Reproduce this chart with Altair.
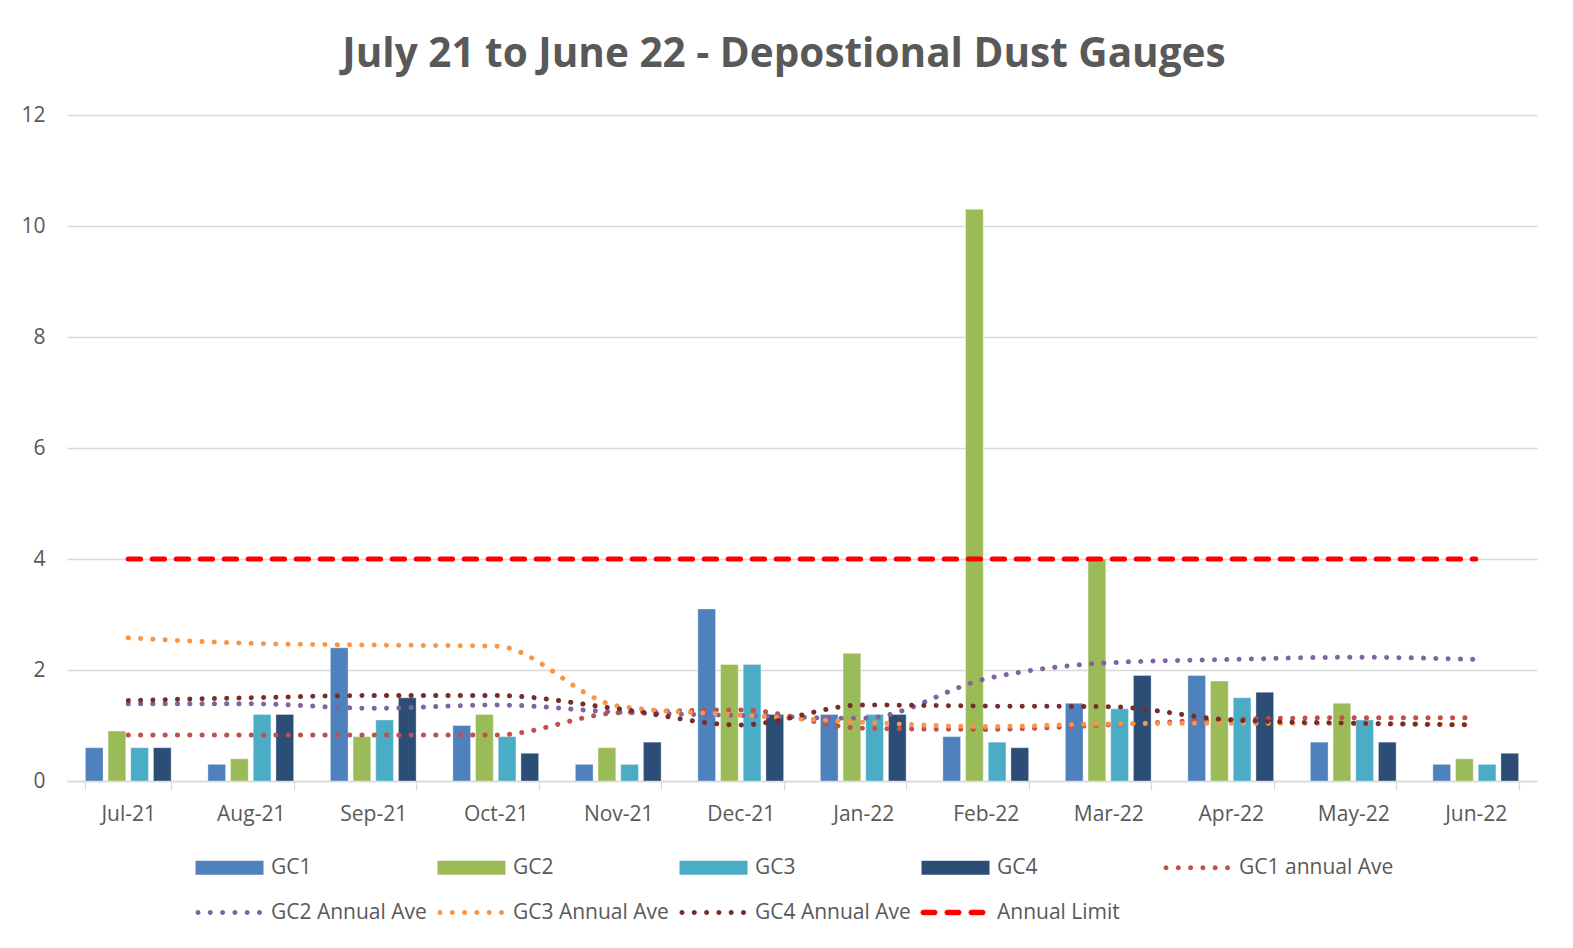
import altair as alt
import pandas as pd

months = ["Jul-21", "Aug-21", "Sep-21", "Oct-21", "Nov-21", "Dec-21",
          "Jan-22", "Feb-22", "Mar-22", "Apr-22", "May-22", "Jun-22"]

bar_names = ["GC1", "GC2", "GC3", "GC4"]
gc1 = [0.6, 0.3, 2.4, 1.0, 0.3, 3.1, 1.2, 0.8, 1.4, 1.9, 0.7, 0.3]
gc2 = [0.9, 0.4, 0.8, 1.2, 0.6, 2.1, 2.3, 10.3, 4.0, 1.8, 1.4, 0.4]
gc3 = [0.6, 1.2, 1.1, 0.8, 0.3, 2.1, 1.2, 0.7, 1.3, 1.5, 1.1, 0.3]
gc4 = [0.6, 1.2, 1.5, 0.5, 0.7, 1.2, 1.2, 0.6, 1.9, 1.6, 0.7, 0.5]

ave_names = ["GC1 annual Ave", "GC2 Annual Ave", "GC3 Annual Ave", "GC4 Annual Ave"]
gc1_ave = [0.83, 0.83, 0.83, 0.83, 1.23, 1.28, 0.95, 0.93, 1.01, 1.11, 1.14, 1.14]
gc2_ave = [1.39, 1.39, 1.31, 1.37, 1.24, 1.18, 1.13, 1.84, 2.13, 2.19, 2.23, 2.19]
gc3_ave = [2.58, 2.48, 2.45, 2.43, 1.35, 1.19, 1.06, 0.98, 1.03, 1.04, 1.04, 1.01]
gc4_ave = [1.45, 1.50, 1.54, 1.54, 1.30, 1.01, 1.37, 1.35, 1.34, 1.10, 1.04, 1.01]

limit_name = "Annual Limit"
annual_limit = [4, 4, 4, 4, 4, 4, 4, 4, 4, 4, 4, 4]

names = bar_names + ave_names + [limit_name]
colors = ["#4F81BD", "#9BBB59", "#4BACC6", "#2C4D75",
          "#C0504D", "#8064A2", "#F79646", "#772C2A", "#FF0000"]

bar_rows = []
for name, vals in zip(bar_names, [gc1, gc2, gc3, gc4]):
    for m, v in zip(months, vals):
        bar_rows.append({"month": m, "series": name, "value": v})
bar_df = pd.DataFrame(bar_rows)

ave_rows = []
for name, vals in zip(ave_names, [gc1_ave, gc2_ave, gc3_ave, gc4_ave]):
    for m, v in zip(months, vals):
        ave_rows.append({"month": m, "series": name, "value": v})
ave_df = pd.DataFrame(ave_rows)

limit_df = pd.DataFrame({"month": months, "series": limit_name, "value": annual_limit})

FONT = "Open Sans"
TXT = "#595959"
GRID = "#D9D9D9"

# legend swatch shapes (unit = half of sqrt(symbolSize))
def _circle(cx, r):
    return (f"M{cx - r:.3f},0A{r},{r} 0 1,0 {cx + r:.3f},0"
            f"A{r},{r} 0 1,0 {cx - r:.3f},0Z")

def _stadium(x0, x1, h):
    return (f"M{x0 + h:.3f},{-h}H{x1 - h:.3f}A{h},{h} 0 0 1 {x1 - h:.3f},{h}"
            f"H{x0 + h:.3f}A{h},{h} 0 0 1 {x0 + h:.3f},{-h}Z")

swatch_rect = "M-1,-0.7H5.8V0.7H-1Z"
swatch_dots = "".join(_circle(-0.75 + i * 1.23, 0.25) for i in range(6))
swatch_dash = "".join(_stadium(a, b, 0.28) for a, b in [(-1.1, 0.6), (1.3, 3.0), (3.7, 5.4)])
shapes = [swatch_rect] * 4 + [swatch_dots] * 4 + [swatch_dash]

legend = alt.Legend(
    title=None, orient="none", direction="horizontal", legendX=128, legendY=742,
    columns=5, symbolSize=400, symbolStrokeWidth=0, symbolOpacity=1,
    labelFont=FONT, labelFontSize=21, labelColor=TXT, labelOffset=55,
    columnPadding=9, rowPadding=23, gridAlign="all", labelLimit=300,
)

color = alt.Color("series:N", scale=alt.Scale(domain=names, range=colors), legend=legend)
shape = alt.Shape("series:N", scale=alt.Scale(domain=names, range=shapes), legend=legend)

x_axis = alt.Axis(
    title=None, labelAngle=0, labelFont=FONT, labelFontSize=21, labelColor=TXT,
    labelPadding=13, domainColor=GRID, domainWidth=1.3, tickColor=GRID,
    tickWidth=1.3, tickSize=9, tickBand="extent", grid=False,
)
y_axis = alt.Axis(
    title=None, values=[0, 2, 4, 6, 8, 10, 12], labelFont=FONT, labelFontSize=21,
    labelColor=TXT, labelPadding=22, domain=False, ticks=False,
    grid=True, gridColor=GRID, gridWidth=1.3,
)

x_bar = alt.X("month:N", sort=months, axis=x_axis,
              scale=alt.Scale(paddingInner=0.3, paddingOuter=0.15))
x_line = alt.X("month:N", sort=months, axis=x_axis, bandPosition=0.5)
y = alt.Y("value:Q", scale=alt.Scale(domain=[0, 12]), axis=y_axis)

bars = alt.Chart(bar_df).mark_bar(
    stroke="white", strokeOpacity=0.35, strokeWidth=1
).encode(
    x=x_bar,
    xOffset=alt.XOffset("series:N", sort=bar_names, scale=alt.Scale(paddingInner=0.22)),
    y=y,
    color=color,
)

aves = alt.Chart(ave_df).mark_line(
    strokeWidth=5, strokeDash=[0.1, 12.2], strokeCap="round", interpolate="monotone"
).encode(x=x_line, y=y, color=color)

limit = alt.Chart(limit_df).mark_line(
    strokeWidth=5, strokeDash=[12.3, 11.7], strokeCap="round"
).encode(x=x_line, y=y, color=color)

# carries the legend shapes only; draws no marks
legend_keys = alt.Chart(ave_df).mark_point(filled=True).encode(
    x=x_line, y=y, color=color, shape=shape
).transform_filter("false")

chart = alt.layer(bars, aves, limit, legend_keys).properties(
    width=1470, height=666,
    title=alt.Title(
        "July 21 to June 22 - Depostional Dust Gauges", font=FONT, fontSize=40.5,
        fontWeight="bold", color=TXT, anchor="middle", dx=-18, offset=29,
    ),
    autosize=alt.AutoSizeParams(type="none"),
    padding={"left": 59, "top": 107, "right": 20, "bottom": 160},
    background="white",
).configure_view(stroke=None)

chart.save("out.html", embed_options={"renderer": "svg", "actions": False})
